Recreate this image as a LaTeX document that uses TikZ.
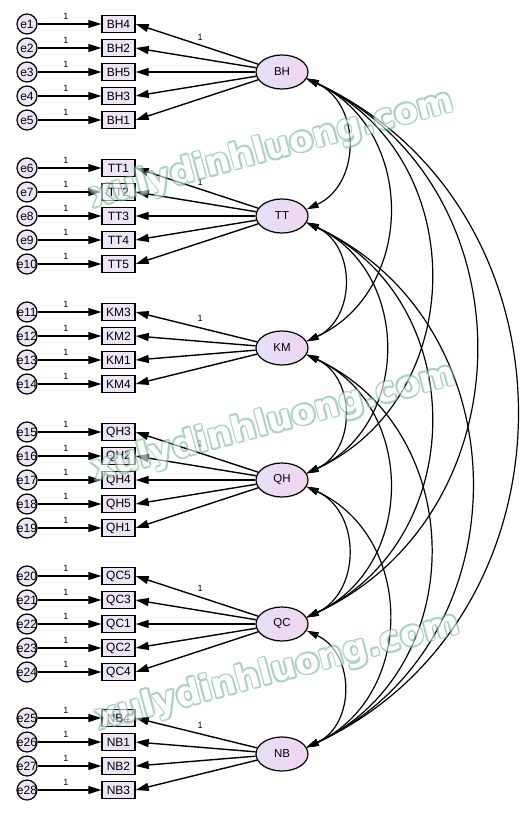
\documentclass[tikz,border=0pt]{standalone}
\usepackage{fontspec}
\setmainfont{Liberation Sans}
\newfontfamily\wmfont{DejaVu Sans}
\usetikzlibrary{arrows.meta,shapes.geometric}
\definecolor{boxfill}{RGB}{237,229,245}
\definecolor{latl}{RGB}{228,224,246}
\definecolor{latr}{RGB}{242,212,240}
\definecolor{wmg}{RGB}{112,182,148}
\newcommand\wmcopy[3]{\rlap{\hspace*{#1}\raisebox{#2}{\textcolor{wmg}{#3}}}}
\newcommand\wmark[1]{\leavevmode
  \wmcopy{1.7pt}{0pt}{#1}\wmcopy{-1.7pt}{0pt}{#1}%
  \wmcopy{0pt}{1.7pt}{#1}\wmcopy{0pt}{-1.7pt}{#1}%
  \wmcopy{1.2pt}{1.2pt}{#1}\wmcopy{-1.2pt}{1.2pt}{#1}%
  \wmcopy{1.2pt}{-1.2pt}{#1}\wmcopy{-1.2pt}{-1.2pt}{#1}%
  \textcolor{white}{#1}}
\tikzset{
  obs/.style={draw, line width=1.4pt, fill=boxfill, minimum width=33pt, minimum height=17pt, inner sep=0pt, font=\fontsize{12}{14}\selectfont},
  err/.style={draw, circle, line width=1.2pt, fill=boxfill, minimum size=20pt, inner sep=0pt, font=\fontsize{12}{14}\selectfont},
  lat/.style={draw, ellipse, line width=1.2pt, left color=latl, right color=latr, minimum width=52pt, minimum height=34pt, inner sep=0pt, font=\fontsize{11.5}{13}\selectfont},
  one/.style={inner sep=0pt, font=\fontsize{9}{10}\selectfont},
  arr/.style={line width=1.4pt, -{Triangle[length=13pt,width=8pt]}},
  cov/.style={line width=1.2pt, {Triangle[length=12pt,width=7pt]}-{Triangle[length=12pt,width=7pt]}},
  wm/.style={rotate=15, inner sep=0pt, font=\wmfont\bfseries\fontsize{35}{40}\selectfont}
}
\begin{document}
\begin{tikzpicture}[x=1pt,y=1pt]
\fill[white] (0,0) rectangle (529,-816);
\useasboundingbox (0,0) rectangle (529,-816);
% latent factors
\node[lat] (BH) at (282,-72) {BH};
\node[lat] (TT) at (282,-216) {TT};
\node[lat] (KM) at (282,-348) {KM};
\node[lat] (QH) at (282,-480) {QH};
\node[lat] (QC) at (282,-624) {QC};
\node[lat] (NB) at (282,-754) {NB};
% indicators and errors
\foreach \e/\v/\y/\f in {1/BH4/24/BH, 2/BH2/48/BH, 3/BH5/72/BH, 4/BH3/96/BH, 5/BH1/120/BH,
  6/TT1/168/TT, 7/TT2/192/TT, 8/TT3/216/TT, 9/TT4/240/TT, 10/TT5/264/TT,
  11/KM3/312/KM, 12/KM2/336/KM, 13/KM1/360/KM, 14/KM4/384/KM,
  15/QH3/432/QH, 16/QH2/456/QH, 17/QH4/480/QH, 18/QH5/504/QH, 19/QH1/528/QH,
  20/QC5/576/QC, 21/QC3/600/QC, 22/QC1/624/QC, 23/QC2/648/QC, 24/QC4/672/QC,
  25/NB4/718/NB, 26/NB1/742/NB, 27/NB2/766/NB, 28/NB3/790/NB}{
  \node[obs] (\v) at (118.5,-\y) {\v};
  \node[err] (e\e) at (27,-\y) {\makebox[0pt]{e\e}};
  \node[one] (l\e) at (66,{8-\y}) {1};
  \draw[arr] (e\e) -- (\v);
  \draw[arr] (\f) -- (\v.east);
}
% loading labels
\node[one] (lBH) at (200,-37) {1};
\node[one] (lTT) at (200,-182) {1};
\node[one] (lKM) at (200,-318) {1};
\node[one] (lQH) at (200,-443) {1};
\node[one] (lQC) at (200,-588) {1};
\node[one] (lNB) at (200,-725) {1};
% covariances
\foreach \a/\b in {BH/TT,BH/KM,BH/QH,BH/QC,BH/NB,TT/KM,TT/QH,TT/QC,TT/NB,KM/QH,KM/QC,KM/NB,QH/QC,QH/NB,QC/NB}{
  \draw[cov] (\a.-15) to[out=-25,in=25,looseness=1.18] (\b.15);
}
% watermark
\begin{scope}[transparency group, opacity=0.6]
\node[wm] (wm1) at (272,-150) {\wmark{xulydinhluong.com}};
\node[wm] (wm2) at (274,-423) {\wmark{xulydinhluong.com}};
\node[wm] (wm3) at (278,-672) {\wmark{xulydinhluong.com}};
\end{scope}
\end{tikzpicture}
\end{document}
